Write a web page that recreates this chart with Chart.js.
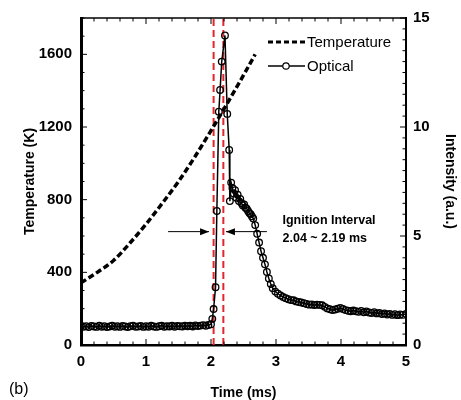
<!DOCTYPE html>
<html>
<head>
<meta charset="utf-8">
<script src="https://cdn.jsdelivr.net/npm/chart.js@4"></script>
<style>
  html, body { margin: 0; padding: 0; background: #fff; }
</style>
</head>
<body>
<canvas id="ignitionChart" width="461" height="400"></canvas>
<script>
// temperature trace (K) vs time (ms)
var tempTime = [0, 0.25, 0.5, 0.75, 1.0, 1.25, 1.5, 1.75, 2.0, 2.25, 2.5, 2.68];
var tempValues = [342, 400, 465, 560, 665, 780, 900, 1035, 1180, 1330, 1485, 1600];

// optical intensity (a.u.) vs time (ms)
var optTime = [
  0, 0.04, 0.08, 0.12, 0.16, 0.2, 0.24, 0.28, 0.32, 0.36,
  0.4, 0.44, 0.48, 0.52, 0.56, 0.6, 0.64, 0.68, 0.72, 0.76,
  0.8, 0.84, 0.88, 0.92, 0.96, 1.0, 1.04, 1.08, 1.12, 1.16,
  1.2, 1.24, 1.28, 1.32, 1.36, 1.4, 1.44, 1.48, 1.52, 1.56,
  1.6, 1.64, 1.68, 1.72, 1.76, 1.8, 1.84, 1.88, 1.92, 1.96, 2.0,
  2.02, 2.04, 2.07, 2.09, 2.12, 2.14, 2.165, 2.215, 2.25, 2.28, 2.29,
  2.31, 2.33, 2.35, 2.37, 2.39, 2.41, 2.43, 2.45, 2.47, 2.49,
  2.51, 2.53, 2.55, 2.57, 2.59, 2.61, 2.63, 2.65,
  2.68, 2.71, 2.74, 2.77, 2.8, 2.83, 2.86, 2.89, 2.92, 2.95,
  2.99, 3.03, 3.07, 3.11, 3.15, 3.19, 3.23, 3.27, 3.31, 3.35,
  3.39, 3.43, 3.47, 3.51, 3.55, 3.59, 3.63, 3.67, 3.71, 3.75,
  3.79, 3.83, 3.87, 3.91, 3.95, 3.99, 4.03, 4.07, 4.11, 4.15,
  4.19, 4.23, 4.27, 4.31, 4.35, 4.39, 4.43, 4.47, 4.51, 4.55,
  4.59, 4.63, 4.67, 4.71, 4.75, 4.79, 4.83, 4.87, 4.91, 4.95, 5.0
];
var optValues = [
  0.88, 0.84, 0.86, 0.82, 0.87, 0.85, 0.83, 0.88, 0.84, 0.86,
  0.82, 0.85, 0.89, 0.84, 0.86, 0.83, 0.87, 0.85, 0.82, 0.86,
  0.88, 0.84, 0.85, 0.87, 0.83, 0.86, 0.84, 0.88, 0.85, 0.83,
  0.86, 0.89, 0.84, 0.86, 0.85, 0.88, 0.84, 0.87, 0.86, 0.85,
  0.89, 0.86, 0.88, 0.85, 0.90, 0.87, 0.89, 0.91, 0.88, 0.92, 0.95,
  1.2, 1.65, 2.65, 6.15, 10.7, 11.7, 13.0, 14.2, 10.6, 8.95, 6.6,
  7.45, 7.2, 6.95, 7.1, 6.75, 6.9, 6.6, 6.7, 6.5, 6.4,
  6.45, 6.3, 6.25, 6.15, 6.05, 6.0, 5.9, 5.8,
  5.5, 5.1, 4.7, 4.3, 4.0, 3.7, 3.35, 3.05, 2.8, 2.6,
  2.45, 2.35, 2.27, 2.2, 2.15, 2.1, 2.06, 2.05, 2.0, 1.97,
  1.95, 1.92, 1.88, 1.85, 1.86, 1.83, 1.85, 1.84, 1.82, 1.75,
  1.68, 1.64, 1.6, 1.63, 1.66, 1.7, 1.65, 1.6, 1.57, 1.55,
  1.58, 1.55, 1.52, 1.56, 1.5, 1.54, 1.49, 1.47, 1.51, 1.45,
  1.47, 1.42, 1.45, 1.4, 1.43, 1.38, 1.41, 1.37, 1.4, 1.38, 1.43
];

// ignition interval bounds (ms)
var intervalTimes = [2.04, 2.19];

var timeTicks = [0, 1, 2, 3, 4, 5];
var tempTicks = [0, 400, 800, 1200, 1600];
var intensityTicks = [0, 5, 10, 15];

var FONT = 'Arial, "Liberation Sans", sans-serif';

function toPoints(xs, ys) {
  return xs.map(function(v, i) { return { x: v, y: ys[i] }; });
}

function fixedTicks(list) {
  return function(scale) {
    scale.ticks = list.map(function(v) { return { value: v }; });
  };
}

function plain(v) { return String(v); }

var redLines = intervalTimes.map(function(t) {
  return {
    data: [{ x: t, y: 0 }, { x: t, y: 1800 }],
    yAxisID: 'y',
    borderColor: '#e3262b',
    borderWidth: 2,
    borderDash: [7, 4],
    pointRadius: 0,
    fill: false
  };
});

// frame, inward tick marks, legend and the interval note
var extras = {
  id: 'extras',
  afterDraw: function(chart) {
    var c = chart.ctx, a = chart.chartArea;
    var x = chart.scales.x, y = chart.scales.y, y1 = chart.scales.y1;
    var i, p, len;
    c.save();
    c.strokeStyle = '#000';
    c.lineWidth = 1.5;
    c.beginPath();
    c.moveTo(a.left, a.top);
    c.lineTo(a.right, a.top);
    c.stroke();

    c.lineWidth = 1;
    c.beginPath();
    for (i = 0; i <= 25; i++) {
      p = x.getPixelForValue(i * 0.2);
      len = i % 5 === 0 ? 6 : 3.5;
      c.moveTo(p, a.bottom); c.lineTo(p, a.bottom - len);
      c.moveTo(p, a.top); c.lineTo(p, a.top + len);
    }
    for (i = 0; i <= 18; i++) {
      p = y.getPixelForValue(i * 100);
      len = i % 4 === 0 ? 6 : 3.5;
      c.moveTo(a.left, p); c.lineTo(a.left + len, p);
    }
    for (i = 0; i <= 30; i++) {
      p = y1.getPixelForValue(i * 0.5);
      len = i % 10 === 0 ? 6 : 3.5;
      c.moveTo(a.right, p); c.lineTo(a.right - len, p);
    }
    c.stroke();

    // legend
    var lx = a.right - 138, ly1 = a.top + 24, ly2 = a.top + 48;
    c.lineWidth = 3;
    c.setLineDash([5, 3]);
    c.beginPath(); c.moveTo(lx, ly1); c.lineTo(lx + 37, ly1); c.stroke();
    c.setLineDash([]);
    c.lineWidth = 1.5;
    c.beginPath(); c.moveTo(lx, ly2); c.lineTo(lx + 37, ly2); c.stroke();
    c.lineWidth = 1.2;
    c.beginPath(); c.arc(lx + 18, ly2, 3.2, 0, Math.PI * 2); c.fillStyle = '#fff'; c.fill(); c.stroke();
    c.fillStyle = '#000';
    c.font = '15px ' + FONT;
    c.textBaseline = 'middle';
    c.textAlign = 'left';
    c.fillText('Temperature', lx + 39, ly1 + 1);
    c.fillText('Optical', lx + 39, ly2 + 1);

    // interval arrows
    var ay = y1.getPixelForValue(5.2);
    function arrow(x0, x1) {
      var d = x1 > x0 ? 1 : -1;
      c.lineWidth = 1;
      c.beginPath(); c.moveTo(x0, ay); c.lineTo(x1, ay); c.stroke();
      c.beginPath();
      c.moveTo(x1, ay);
      c.lineTo(x1 - d * 9, ay - 3.5);
      c.lineTo(x1 - d * 9, ay + 3.5);
      c.closePath();
      c.fill();
    }
    arrow(x.getPixelForValue(1.34), x.getPixelForValue(1.97));
    arrow(x.getPixelForValue(2.86), x.getPixelForValue(2.23));

    c.font = 'bold 12.5px ' + FONT;
    c.fillText('Ignition Interval', x.getPixelForValue(3.1), y1.getPixelForValue(5.7));
    c.fillText('2.04 ~ 2.19 ms', x.getPixelForValue(3.1), y1.getPixelForValue(4.9));

    c.font = '16px ' + FONT;
    c.fillText('(b)', 9, 390);
    c.restore();
  }
};

var ctx = document.getElementById('ignitionChart').getContext('2d');
var chart = new Chart(ctx, {
  type: 'line',
  data: {
    datasets: [{
      label: 'Optical',
      data: toPoints(optTime, optValues),
      yAxisID: 'y1',
      borderColor: '#000',
      borderWidth: 1.5,
      pointRadius: 3.3,
      pointBorderWidth: 1.3,
      pointBorderColor: '#000',
      pointBackgroundColor: 'rgba(255,255,255,0)',
      tension: 0,
      fill: false
    }, {
      label: 'Temperature',
      data: toPoints(tempTime, tempValues),
      yAxisID: 'y',
      borderColor: '#000',
      borderWidth: 3.5,
      borderDash: [6, 3],
      cubicInterpolationMode: 'monotone',
      pointRadius: 0,
      fill: false
    }].concat(redLines)
  },
  plugins: [extras],
  options: {
    responsive: false,
    animation: false,
    events: [],
    layout: { padding: { left: 0, right: 0, top: 18, bottom: 0 } },
    plugins: { legend: { display: false }, tooltip: { enabled: false } },
    scales: {
      x: {
        type: 'linear',
        position: 'bottom',
        min: 0,
        max: 5,
        afterBuildTicks: fixedTicks(timeTicks),
        afterFit: function(s) { s.height = 55; },
        grid: { display: false, drawTicks: false },
        border: { display: true, color: '#000', width: 2.5 },
        ticks: { color: '#000', padding: 8, callback: plain, font: { family: FONT, size: 15, weight: 'bold' } },
        title: { display: true, text: 'Time (ms)', color: '#000', padding: { top: 0, bottom: -1.5 },
                 font: { family: FONT, size: 14, weight: 'bold' } }
      },
      y: {
        position: 'left',
        min: 0,
        max: 1800,
        afterBuildTicks: fixedTicks(tempTicks),
        afterFit: function(s) { s.width = 81; },
        grid: { display: false, drawTicks: false },
        border: { display: true, color: '#000', width: 3 },
        ticks: { color: '#000', padding: 9, callback: plain, font: { family: FONT, size: 15, weight: 'bold' } },
        title: { display: true, text: 'Temperature (K)', color: '#000', padding: { top: 22, bottom: 0 },
                 font: { family: FONT, size: 14, weight: 'bold' } }
      },
      y1: {
        position: 'right',
        min: 0,
        max: 15,
        afterBuildTicks: fixedTicks(intensityTicks),
        afterFit: function(s) { s.width = 55; },
        grid: { display: false, drawTicks: false },
        border: { display: true, color: '#000', width: 2 },
        ticks: { color: '#000', padding: 7, callback: plain, font: { family: FONT, size: 15, weight: 'bold' } },
        title: { display: true, text: 'Intensity (a.u.)', color: '#000', padding: { top: 3, bottom: 0 },
                 font: { family: FONT, size: 14, weight: 'bold' } }
      }
    }
  }
});
</script>
</body>
</html>
